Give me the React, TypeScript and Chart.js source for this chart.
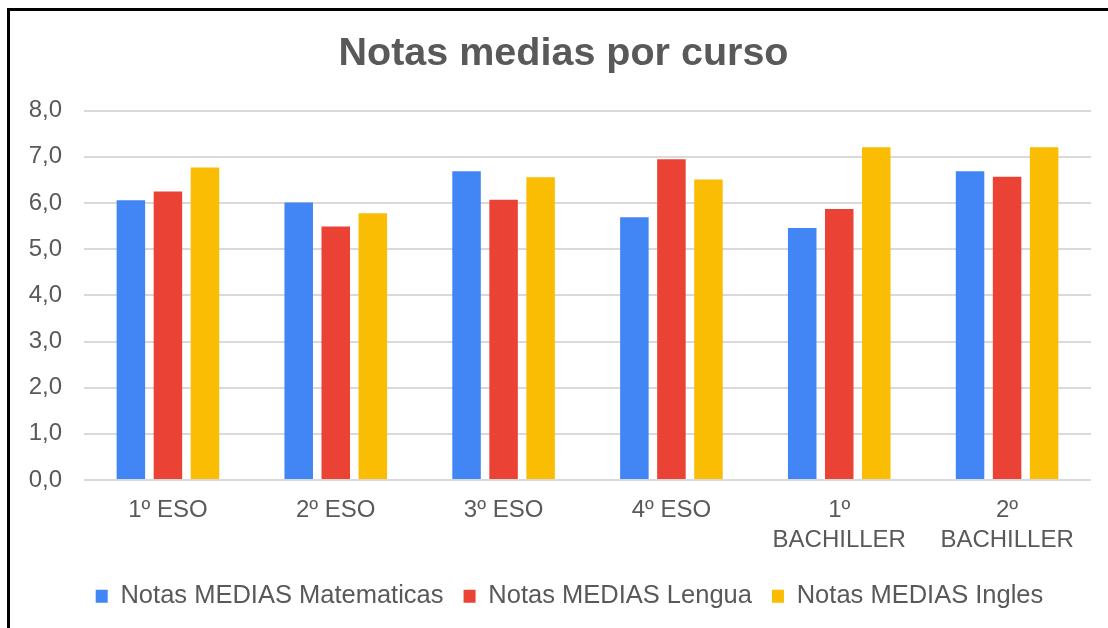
import React, { useEffect, useRef } from 'react';
import { Chart, registerables } from 'chart.js';

Chart.register(...registerables);

const categories: (string | string[])[] = ['1º ESO', '2º ESO', '3º ESO', '4º ESO', ['1º', 'BACHILLER'], ['2º', 'BACHILLER']];
const seriesNames = ['Notas MEDIAS Matematicas', 'Notas MEDIAS Lengua', 'Notas MEDIAS Ingles'];
const matematicas = [6.06, 6.01, 6.69, 5.69, 5.46, 6.69];
const lengua = [6.25, 5.49, 6.07, 6.95, 5.87, 6.57];
const ingles = [6.77, 5.78, 6.56, 6.51, 7.21, 7.21];
const seriesColors = ['#4285F4', '#EA4335', '#FBBC04'];
const yMin = 0;
const yMax = 8;
const yStep = 1;
const titleText = 'Notas medias por curso';

const FONT = "'Liberation Sans', Arial, sans-serif";
const TEXT = '#595959';

// shifts the centred title / legend blocks horizontally after layout
const shiftBlocks = {
  id: 'shiftBlocks',
  afterLayout(chart: any) {
    const t = chart.titleBlock;
    if (t) { t.left += 13; t.right += 13; }
    const l = chart.legend;
    if (l) { l.left += 19; l.right += 19; }
  },
};

export default function App() {
  const ref = useRef<HTMLCanvasElement | null>(null);

  useEffect(() => {
    if (!ref.current) return;
    const values = [matematicas, lengua, ingles];
    const chart = new Chart(ref.current, {
      type: 'bar',
      data: {
        labels: categories,
        datasets: values.map((v, i) => ({
          label: seriesNames[i],
          data: v,
          backgroundColor: seriesColors[i],
          borderWidth: 0,
          barPercentage: 0.77,
          categoryPercentage: 0.662,
        })),
      },
      plugins: [shiftBlocks],
      options: {
        animation: false,
        responsive: false,
        maintainAspectRatio: false,
        layout: { padding: { left: 0, right: 17, top: 0, bottom: 9 } },
        plugins: {
          title: {
            display: true,
            text: titleText,
            color: TEXT,
            font: { family: FONT, size: 39.5, weight: 'bold' },
            padding: { top: 19, bottom: 33.3 },
          },
          legend: {
            position: 'bottom',
            labels: {
              color: TEXT,
              font: { family: FONT, size: 25.5 },
              boxWidth: 12,
              boxHeight: 13,
              padding: 20,
            },
          },
          tooltip: { enabled: false },
        },
        scales: {
          x: {
            grid: { display: false, drawTicks: false },
            border: { display: false },
            ticks: {
              color: TEXT,
              font: { family: FONT, size: 24, lineHeight: 1.25 },
              padding: 15,
              maxRotation: 0,
              autoSkip: false,
            },
            afterFit: (s: any) => { s.height = 83.5; },
          },
          y: {
            min: yMin,
            max: yMax,
            grid: { color: '#d9d9d9', lineWidth: 2, drawTicks: false },
            border: { display: false },
            ticks: {
              stepSize: yStep,
              color: TEXT,
              font: { family: FONT, size: 24 },
              padding: 22,
              callback: (v: any) => Number(v).toFixed(1).replace('.', ','),
            },
            afterFit: (s: any) => { s.width = 74; },
          },
        },
      },
    });
    return () => chart.destroy();
  }, []);

  return (
    <div style={{ position: 'fixed', left: 0, top: 0, width: 1108, height: 628, background: '#fff', overflow: 'hidden' }}>
      <div
        style={{
          position: 'absolute',
          left: 7,
          top: 8,
          width: 1101,
          height: 620,
          borderTop: '3px solid #000',
          borderLeft: '3px solid #000',
        }}
      >
        <canvas ref={ref} width={1098} height={617} style={{ display: 'block', width: 1098, height: 617 }} />
      </div>
    </div>
  );
}
